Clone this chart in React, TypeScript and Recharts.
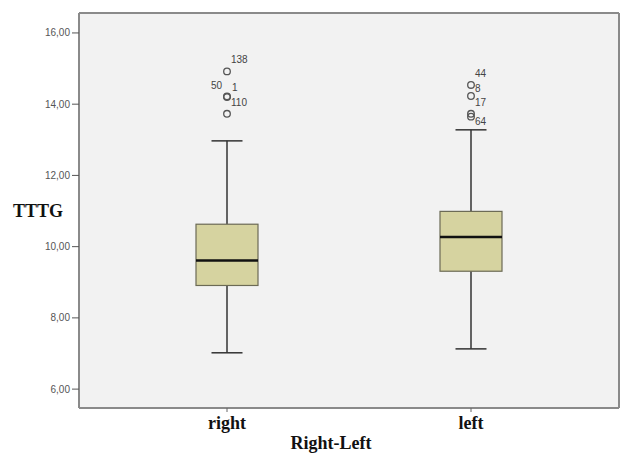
import { ComposedChart, Bar, Scatter, XAxis, YAxis, CartesianGrid, Label } from "recharts";

// box statistics per group
const categories = ["right", "left"];
const mins = [7.02, 7.13];
const q1s = [8.91, 9.31];
const medians = [9.61, 10.27];
const q3s = [10.63, 10.99];
const maxs = [12.97, 13.28];

// outliers (case numbers as labels)
const outlierGroups = ["right", "right", "right", "right", "left", "left", "left", "left"];
const outlierValues = [14.92, 14.22, 14.2, 13.73, 14.54, 14.23, 13.73, 13.65];
const outlierCases = ["138", "50", "1", "110", "44", "8", "17", "64"];

const yTicks = [6, 8, 10, 12, 14, 16];
const yDomain = [5.47, 16.56];

const boxData = categories.map((name, i) => ({
  name,
  min: mins[i],
  q1: q1s[i],
  median: medians[i],
  q3: q3s[i],
  max: maxs[i],
}));

const outlierData = outlierValues.map((value, i) => ({
  name: outlierGroups[i],
  value,
  label: outlierCases[i],
}));

// where the case number sits next to its circle
const labelOffset: Record<string, [number, number, "start" | "end"]> = {
  "50": [-5, -7, "end"],
  "1": [5, -6, "start"],
  "8": [4, -4, "start"],
  "64": [4, 8, "start"],
};

const serif = "'Liberation Serif', 'Times New Roman', serif";
const sans = "'Liberation Sans', Arial, sans-serif";

function BoxShape(props: any) {
  const { x, y, width, height, payload } = props;
  const top = Math.min(y, y + height);
  const h = Math.abs(height);
  const { min, max, q1, median, q3 } = payload;
  const toPx = (v: number) => top + ((max - v) / (max - min)) * h;
  const cx = x + width / 2;
  const cap = width / 4;
  return (
    <g>
      <line x1={cx} x2={cx} y1={toPx(max)} y2={toPx(q3)} stroke="#333" strokeWidth={1.5} />
      <line x1={cx} x2={cx} y1={toPx(q1)} y2={toPx(min)} stroke="#333" strokeWidth={1.5} />
      <line x1={cx - cap} x2={cx + cap} y1={toPx(max)} y2={toPx(max)} stroke="#333" strokeWidth={1.5} />
      <line x1={cx - cap} x2={cx + cap} y1={toPx(min)} y2={toPx(min)} stroke="#333" strokeWidth={1.5} />
      <rect
        x={x}
        y={toPx(q3)}
        width={width}
        height={toPx(q1) - toPx(q3)}
        fill="#d6d3a0"
        stroke="#6b6a55"
        strokeWidth={1.2}
      />
      <line x1={x} x2={x + width} y1={toPx(median)} y2={toPx(median)} stroke="#111" strokeWidth={2.5} />
    </g>
  );
}

function OutlierShape(props: any) {
  const { cx, cy, payload } = props;
  const [dx, dy, anchor] = labelOffset[payload.label] ?? [4, -8, "start"];
  return (
    <g>
      <circle cx={cx} cy={cy} r={3.3} fill="none" stroke="#555" strokeWidth={1.3} />
      <text x={cx + dx} y={cy + dy} textAnchor={anchor} fontSize={10} fontFamily={sans} fill="#444">
        {payload.label}
      </text>
    </g>
  );
}

function CategoryTick(props: any) {
  const { x, y, payload } = props;
  return (
    <text x={x} y={y + 15} textAnchor="middle" fontSize={18} fontWeight="bold" fontFamily={serif} fill="#111">
      {payload.value}
    </text>
  );
}

export default function App() {
  return (
    <div style={{ position: "fixed", left: 0, top: 0, background: "#fff" }}>
      <ComposedChart width={622} height={454} data={boxData} margin={{ top: 13, right: 3, bottom: 0, left: 0 }}>
        {/* plot frame: lines on the four edges of the plot area */}
        <CartesianGrid
          fill="#f2f2f2"
          stroke="#8a8a8a"
          strokeWidth={2}
          horizontalCoordinatesGenerator={({ offset }: any) => [offset.top, offset.top + offset.height]}
          verticalCoordinatesGenerator={({ offset }: any) => [offset.left, offset.left + offset.width]}
        />
        <XAxis
          dataKey="name"
          type="category"
          allowDuplicatedCategory={false}
          padding={{ left: 26, right: 26 }}
          height={46}
          axisLine={{ stroke: "#8a8a8a", strokeWidth: 2 }}
          tickLine={{ stroke: "#666" }}
          tickSize={4}
          tick={<CategoryTick />}
        >
          <Label
            content={(p: any) => (
              <text
                x={p.viewBox.x + p.viewBox.width / 2 - 18}
                y={p.viewBox.y + 41}
                textAnchor="middle"
                fontSize={18}
                fontWeight="bold"
                fontFamily={serif}
                fill="#111"
              >
                Right-Left
              </text>
            )}
          />
        </XAxis>
        <YAxis
          type="number"
          domain={yDomain}
          ticks={yTicks}
          allowDataOverflow
          width={79}
          tickSize={7}
          tickFormatter={(v: number) => v.toFixed(2).replace(".", ",")}
          tick={{ fontSize: 10, fill: "#555", fontFamily: sans }}
          tickLine={{ stroke: "#555" }}
          axisLine={{ stroke: "#8a8a8a", strokeWidth: 2 }}
        >
          <Label
            content={(p: any) => (
              <text x={13} y={p.viewBox.y + 204} fontSize={18} fontWeight="bold" fontFamily={serif} fill="#111">
                TTTG
              </text>
            )}
          />
        </YAxis>
        <Bar
          dataKey={(d: any) => [d.min, d.max]}
          barSize={62}
          shape={<BoxShape />}
          isAnimationActive={false}
        />
        <Scatter data={outlierData} dataKey="value" shape={<OutlierShape />} isAnimationActive={false} />
      </ComposedChart>
    </div>
  );
}
